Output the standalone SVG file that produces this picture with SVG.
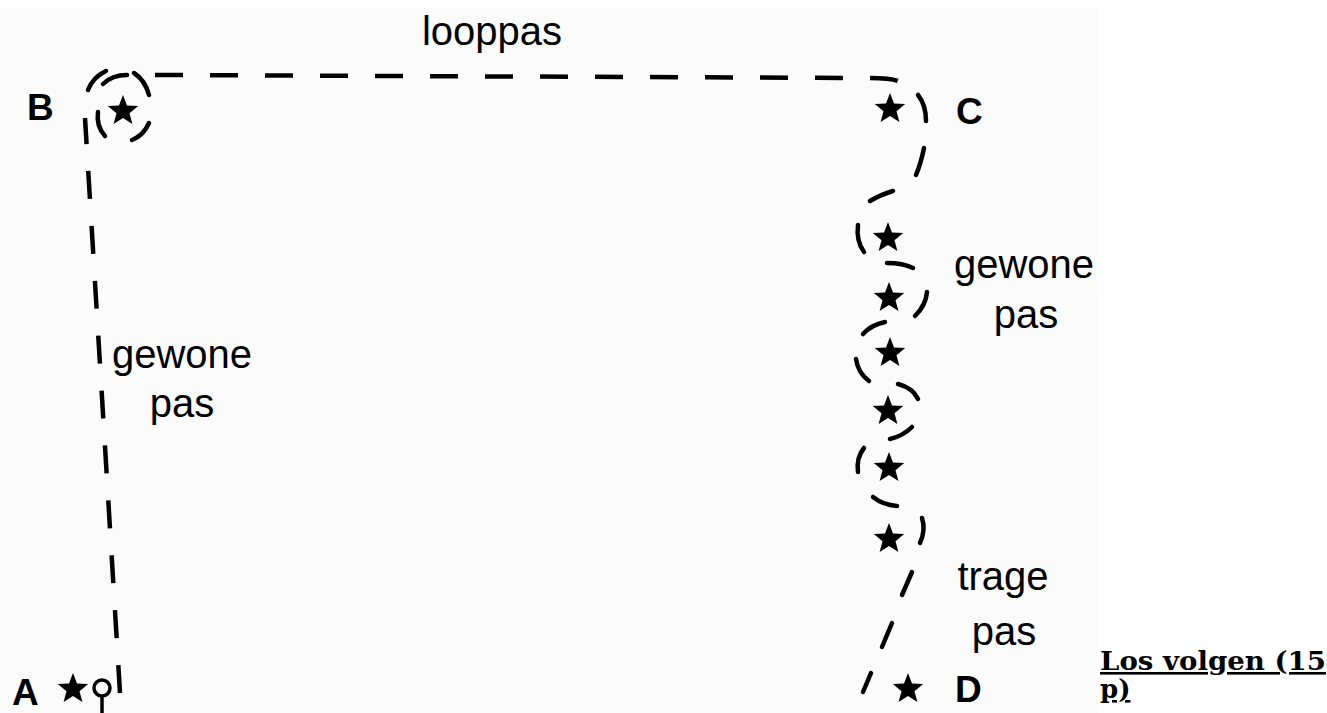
<svg xmlns="http://www.w3.org/2000/svg" width="1327" height="713" viewBox="0 0 1327 713">
<style>
.dash{fill:none;stroke:#000;stroke-width:4.5;stroke-linecap:butt}
.seg{fill:none;stroke:#000;stroke-width:4.5;stroke-linecap:round}
.lbl{font-family:"Liberation Sans",Arial,sans-serif;font-size:40px;fill:#000}
.pt{font-family:"Liberation Sans",Arial,sans-serif;font-size:37px;font-weight:bold;fill:#000}
.title{font-family:"DejaVu Serif","Liberation Serif",serif;font-size:26px;font-weight:bold;fill:#000;text-decoration:underline}
</style>
<defs>
<path id="star" d="M0,-16 L4,-5.4 L15.2,-4.9 L6.5,2.2 L9.4,13 L0,7 L-9.4,13 L-6.5,2.2 L-15.2,-4.9 L-4,-5.4 Z" fill="#000"/>
</defs>
<rect x="0" y="0" width="1327" height="713" fill="#ffffff"/>
<rect x="0" y="7" width="1097" height="706" fill="#fbfbfb"/>

<g id="connectors">
  <path class="dash" d="M155,75 L870,78 Q890,78 898,81" stroke-dasharray="28 27"/>
  <path class="dash" d="M120,693 L85,118" stroke-dasharray="28 27"/>
  <!-- loop around B -->
  <path class="seg" d="M88,90 Q93,77 106,71"/>
  <path class="seg" d="M103,84 Q112,75 127,75"/>
  <path class="seg" d="M134,73 Q145,80 149,95"/>
  <path class="seg" d="M149,123 Q143,136 132,140"/>
  <path class="seg" d="M98,112 Q96,126 105,136"/>
  <!-- right column -->
  <path class="seg" d="M918,95 Q926,105 926,121"/>
  <path class="seg" d="M924,148 Q921,163 916,175"/>
  <path class="seg" d="M893,191 Q880,195 870,201"/>
  <path class="seg" d="M858,225 Q856,241 864,252"/>
  <path class="seg" d="M887,263 Q903,263 913,268"/>
  <path class="seg" d="M927,292 Q926,305 915,316"/>
  <path class="seg" d="M885,322 Q871,325 863,334"/>
  <path class="seg" d="M856,359 Q858,373 869,381"/>
  <path class="seg" d="M898,384 Q913,388 918,399"/>
  <path class="seg" d="M912,427 Q903,436 890,439"/>
  <path class="seg" d="M864,448 Q856,458 858,472"/>
  <path class="seg" d="M873,497 Q883,505 897,506"/>
  <path class="seg" d="M922,518 Q926,530 920,543"/>
  <path class="seg" d="M912,572 L902,595"/>
  <path class="seg" d="M892,623 L882,647"/>
  <path class="seg" d="M871,673 L863,692"/>
</g>

<g id="node-B">
  <text class="pt" x="27" y="120">B</text>
  <use href="#star" x="123" y="111"/>
</g>
<g id="node-C">
  <use href="#star" x="890" y="109"/>
  <text class="pt" x="956" y="124">C</text>
</g>
<g id="node-A">
  <text class="pt" x="12" y="705">A</text>
  <use href="#star" x="73" y="689"/>
  <circle cx="102" cy="688" r="8" fill="none" stroke="#000" stroke-width="3.5"/>
  <line x1="102" y1="696" x2="102" y2="713" stroke="#000" stroke-width="3.5"/>
</g>
<g id="node-D">
  <use href="#star" x="908" y="689"/>
  <text class="pt" x="955" y="702">D</text>
</g>
<g id="stars">
  <use href="#star" x="888" y="238"/>
  <use href="#star" x="889" y="298"/>
  <use href="#star" x="890" y="353"/>
  <use href="#star" x="888" y="411"/>
  <use href="#star" x="889" y="468"/>
  <use href="#star" x="889" y="539"/>
</g>
<g id="labels">
  <text class="lbl" x="492" y="45" text-anchor="middle">looppas</text>
  <text class="lbl" x="182" y="368" text-anchor="middle">gewone</text>
  <text class="lbl" x="182" y="417" text-anchor="middle">pas</text>
  <text class="lbl" x="1024" y="278" text-anchor="middle">gewone</text>
  <text class="lbl" x="1026" y="328" text-anchor="middle">pas</text>
  <text class="lbl" x="1003" y="590" text-anchor="middle">trage</text>
  <text class="lbl" x="1004" y="645" text-anchor="middle">pas</text>
</g>
<g id="title">
  <text class="title" x="1100" y="670" textLength="226" lengthAdjust="spacingAndGlyphs">Los volgen (15</text>
  <text class="title" x="1100" y="698">p)</text>
</g>
</svg>
